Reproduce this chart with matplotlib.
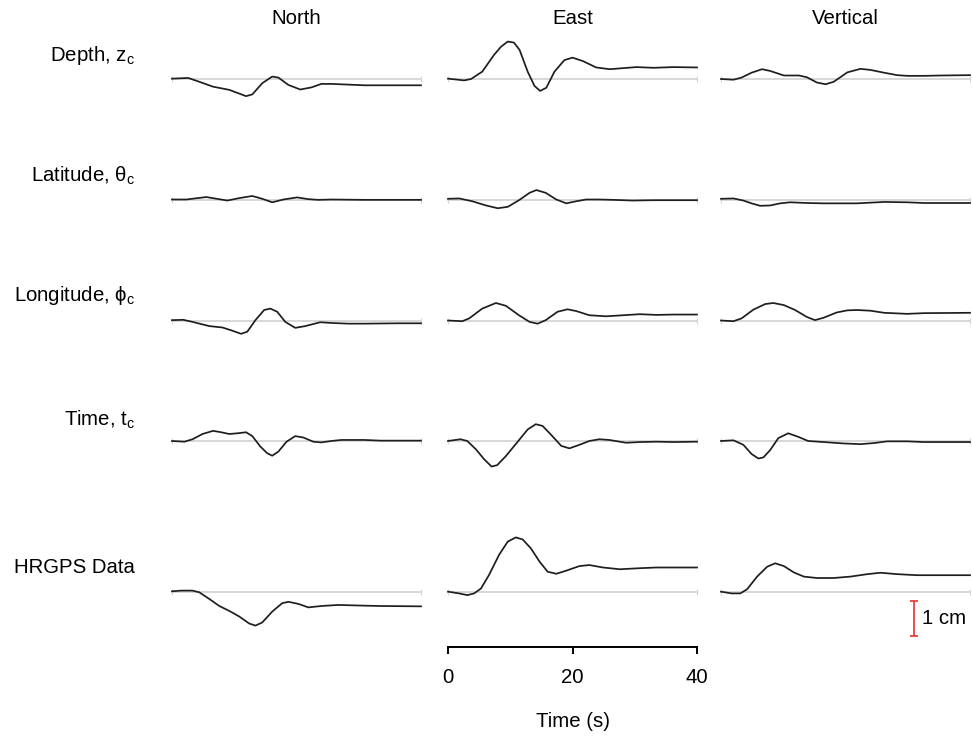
import matplotlib

matplotlib.use("Agg")
import matplotlib.pyplot as plt

plt.rcParams["font.family"] = ["Liberation Sans", "DejaVu Sans"]
plt.rcParams["mathtext.fontset"] = "custom"
plt.rcParams["mathtext.rm"] = "Liberation Sans"
plt.rcParams["mathtext.it"] = "Liberation Sans:italic"

# --- data: displacement traces (cm) vs time (s) ----------------------------
COMPONENTS = ["North", "East", "Vertical"]
ROW_LABELS = [r"Depth, z$_\mathrm{c}$", r"Latitude, θ$_\mathrm{c}$",
              r"Longitude, ϕ$_\mathrm{c}$", r"Time, t$_\mathrm{c}$", "HRGPS Data"]
TIME_TICKS = [0, 20, 40]
SCALE_CM = 1.0

# depth
N_DEPTH_T = [0, 2.6, 4.4, 6.6, 9.2, 11.9, 12.9, 14.5, 16.1, 17.1, 18.7, 20.6, 22.4, 24.0, 25.6, 28.3, 30.9, 36.2, 40]
N_DEPTH_V = [0.01, 0.03, -0.08, -0.22, -0.31, -0.49, -0.44, -0.12, 0.07, 0.04, -0.17, -0.30, -0.24, -0.14, -0.14, -0.16, -0.18, -0.18, -0.18]
E_DEPTH_T = [0, 2.6, 3.7, 5.5, 7.4, 8.5, 9.6, 10.6, 11.5, 12.8, 13.9, 14.8, 15.8, 17.1, 18.7, 20.0, 21.7, 23.8, 26.0, 28.1, 30.3, 33.0, 36.2, 40]
E_DEPTH_V = [0.01, -0.04, 0.0, 0.21, 0.69, 0.92, 1.07, 1.04, 0.83, 0.21, -0.20, -0.34, -0.25, 0.21, 0.54, 0.61, 0.51, 0.33, 0.28, 0.31, 0.34, 0.32, 0.34, 0.33]
V_DEPTH_T = [0, 2.0, 3.3, 4.9, 6.6, 7.9, 10.1, 12.5, 13.8, 15.4, 16.8, 18.1, 20.3, 22.4, 24.0, 26.2, 28.3, 29.9, 32.6, 35.3, 40]
V_DEPTH_V = [0, -0.02, 0.04, 0.18, 0.28, 0.23, 0.10, 0.10, 0.05, -0.10, -0.15, -0.08, 0.19, 0.29, 0.26, 0.18, 0.11, 0.09, 0.09, 0.10, 0.11]

# latitude
N_LAT_T = [0, 2.3, 5.5, 8.9, 10.8, 12.9, 14.5, 16.1, 17.9, 20.1, 21.9, 23.5, 25.6, 30.9, 40]
N_LAT_V = [0, 0, 0.07, -0.03, 0.04, 0.10, 0.02, -0.08, 0, 0.06, 0.01, -0.01, 0, -0.01, -0.01]
E_LAT_T = [0, 1.8, 3.9, 6.1, 8.0, 9.6, 11.4, 13.1, 14.2, 15.7, 17.4, 19.0, 20.6, 22.2, 24.3, 26.5, 29.7, 33.0, 36.2, 40]
E_LAT_V = [0.02, 0.03, -0.05, -0.17, -0.25, -0.21, -0.02, 0.19, 0.27, 0.19, 0, -0.11, -0.05, 0, 0, -0.01, -0.03, -0.02, -0.02, -0.02]
V_LAT_T = [0, 2.0, 3.6, 4.9, 6.3, 7.9, 9.5, 11.1, 13.8, 16.5, 21.8, 26.2, 29.9, 32.6, 40]
V_LAT_V = [0.02, 0.03, -0.03, -0.11, -0.18, -0.17, -0.11, -0.08, -0.10, -0.11, -0.11, -0.07, -0.08, -0.10, -0.10]

# longitude
N_LON_T = [0, 1.8, 3.3, 6.0, 8.1, 9.5, 11.1, 12.1, 13.4, 14.8, 15.8, 16.9, 18.2, 19.8, 21.4, 23.8, 25.6, 28.3, 30.9, 36.2, 40]
N_LON_V = [0.01, 0.02, -0.04, -0.16, -0.20, -0.28, -0.38, -0.32, 0.01, 0.30, 0.34, 0.25, -0.04, -0.21, -0.16, -0.05, -0.07, -0.09, -0.09, -0.08, -0.08]
E_LON_T = [0, 2.3, 3.4, 5.5, 7.7, 9.3, 11.4, 13.1, 14.4, 15.7, 17.6, 19.2, 20.6, 22.7, 25.4, 28.1, 30.8, 33.5, 36.2, 40]
E_LON_V = [0, -0.02, 0.06, 0.34, 0.50, 0.42, 0.15, -0.04, -0.09, 0.01, 0.25, 0.32, 0.27, 0.15, 0.12, 0.15, 0.18, 0.16, 0.17, 0.17]
V_LON_T = [0, 2.0, 3.3, 5.2, 7.1, 8.4, 10.1, 11.9, 13.8, 15.1, 16.5, 18.6, 20.3, 21.8, 24.0, 26.2, 29.9, 32.6, 40]
V_LON_V = [0, -0.02, 0.06, 0.31, 0.47, 0.50, 0.44, 0.30, 0.10, 0.01, 0.08, 0.23, 0.29, 0.30, 0.28, 0.22, 0.19, 0.21, 0.22]

# origin time
N_TIME_T = [0, 2.0, 3.3, 4.9, 6.6, 7.9, 9.2, 10.5, 11.9, 12.9, 14.2, 15.3, 16.1, 17.1, 18.4, 19.8, 21.1, 22.7, 24.0, 25.6, 27.2, 30.9, 33.5, 40]
N_TIME_V = [0, -0.02, 0.05, 0.20, 0.29, 0.25, 0.20, 0.22, 0.25, 0.14, -0.16, -0.35, -0.42, -0.30, -0.02, 0.14, 0.10, -0.02, -0.04, 0, 0.03, 0.03, 0.01, 0.01]
E_TIME_T = [0, 2.0, 3.1, 4.5, 5.8, 7.0, 7.9, 9.3, 11.2, 12.8, 14.1, 15.2, 16.6, 18.2, 19.5, 21.1, 22.7, 24.3, 25.9, 28.6, 30.8, 33.5, 36.2, 40]
E_TIME_V = [0, 0.05, 0, -0.24, -0.52, -0.73, -0.69, -0.43, -0.02, 0.33, 0.48, 0.43, 0.17, -0.14, -0.21, -0.11, 0, 0.05, 0.03, -0.05, -0.03, -0.02, -0.03, -0.02]
V_TIME_T = [0, 2.0, 3.6, 4.9, 6.0, 6.8, 7.9, 9.2, 10.8, 12.4, 14.0, 16.5, 19.7, 22.4, 24.5, 26.7, 29.9, 32.6, 40]
V_TIME_V = [0, 0.02, -0.11, -0.37, -0.50, -0.47, -0.26, 0.08, 0.22, 0.12, 0, -0.03, -0.07, -0.09, -0.06, -0.01, -0.01, -0.03, -0.03]

# observed HRGPS
N_DATA_T = [0, 1.5, 3.3, 4.4, 6.0, 7.6, 9.2, 10.8, 12.4, 13.4, 14.5, 16.1, 17.7, 18.7, 20.3, 21.9, 24.0, 26.7, 30.9, 33.5, 40]
N_DATA_V = [0.02, 0.04, 0.04, -0.01, -0.20, -0.40, -0.54, -0.70, -0.90, -0.96, -0.87, -0.56, -0.32, -0.28, -0.34, -0.44, -0.40, -0.37, -0.39, -0.40, -0.41]
E_DATA_T = [0, 1.8, 3.1, 4.2, 5.3, 6.6, 8.2, 9.6, 10.9, 12.0, 13.3, 14.7, 16.0, 17.4, 19.0, 21.1, 22.7, 24.9, 27.6, 30.8, 33.5, 36.2, 40]
E_DATA_V = [0.01, -0.04, -0.09, -0.04, 0.10, 0.49, 1.06, 1.44, 1.56, 1.50, 1.25, 0.87, 0.58, 0.52, 0.61, 0.74, 0.77, 0.70, 0.65, 0.68, 0.70, 0.70, 0.70]
V_DATA_T = [0, 1.7, 3.1, 4.2, 5.8, 7.4, 8.7, 10.1, 11.7, 13.3, 15.4, 18.1, 20.8, 23.5, 25.6, 28.3, 31.5, 35.3, 40]
V_DATA_V = [0.01, -0.04, -0.04, 0.08, 0.44, 0.72, 0.82, 0.74, 0.56, 0.44, 0.40, 0.40, 0.44, 0.51, 0.55, 0.51, 0.48, 0.48, 0.48]

TRACES = [
    [(N_DEPTH_T, N_DEPTH_V), (E_DEPTH_T, E_DEPTH_V), (V_DEPTH_T, V_DEPTH_V)],
    [(N_LAT_T, N_LAT_V), (E_LAT_T, E_LAT_V), (V_LAT_T, V_LAT_V)],
    [(N_LON_T, N_LON_V), (E_LON_T, E_LON_V), (V_LON_T, V_LON_V)],
    [(N_TIME_T, N_TIME_V), (E_TIME_T, E_TIME_V), (V_TIME_T, V_TIME_V)],
    [(N_DATA_T, N_DATA_V), (E_DATA_T, E_DATA_V), (V_DATA_T, V_DATA_V)],
]

# --- layout (pixels of the 972x736 canvas) ---------------------------------
W, H = 972, 736
PANEL_LEFT = [172, 448, 721]
PANEL_W = 249
ROW_BASE = [79, 199.5, 320.5, 441, 592]   # y of the zero line
LABEL_BASE = [61, 182, 301, 426, 573]
PX_PER_CM = 35.0
UP, DOWN = 60, 50                          # px kept above / below zero line
FS = 14.7
GREY = "#d4d4d4"
INK = "#1e1e1e"
RED = "#e8322b"

fig = plt.figure(figsize=(W / 100, H / 100), dpi=100)


def fx(x):
    return x / W


def fy(y):
    return 1 - y / H


for r, yb in enumerate(ROW_BASE):
    for c, x0 in enumerate(PANEL_LEFT):
        ax = fig.add_axes([fx(x0), fy(yb + DOWN), PANEL_W / W, (UP + DOWN) / H])
        ax.set_xlim(0, 40)
        ax.set_ylim(-DOWN / PX_PER_CM, UP / PX_PER_CM)
        ax.axis("off")
        ax.plot([0, 40], [0, 0], color=GREY, lw=1.3, marker="|", ms=4,
                mew=0.8, clip_on=False, zorder=1)
        t, v = TRACES[r][c]
        ax.plot(t, v, color=INK, lw=1.25, solid_joinstyle="round",
                clip_on=False, zorder=2)
        if r == len(ROW_BASE) - 1 and c == 2:
            # 1 cm scale bar
            xs = 31.0
            ax.errorbar([xs], [-0.26 - SCALE_CM / 2], yerr=SCALE_CM / 2,
                        color=RED, lw=1.2, capsize=3, capthick=1.2,
                        clip_on=False)
            ax.text(xs + 1.3, -0.26 - SCALE_CM / 2, "1 cm", fontsize=FS,
                    va="center", ha="left")

# column titles
for c, name in enumerate(COMPONENTS):
    fig.text(fx(PANEL_LEFT[c] + PANEL_W / 2), fy(24), name, fontsize=FS,
             ha="center", va="baseline")

# row labels
for label, yl in zip(ROW_LABELS, LABEL_BASE):
    fig.text(fx(135), fy(yl), label, fontsize=FS, ha="right", va="baseline")

# time axis under the East column
ax_t = fig.add_axes([fx(PANEL_LEFT[1]), fy(647), PANEL_W / W, 0.0001])
ax_t.set_xlim(0, 40)
ax_t.set_yticks([])
for s in ("top", "left", "right"):
    ax_t.spines[s].set_visible(False)
ax_t.spines["bottom"].set_linewidth(1.4)
ax_t.set_xticks(TIME_TICKS)
ax_t.tick_params(axis="x", direction="out", length=5, width=1.4,
                 labelsize=FS, pad=10)
ax_t.set_xlabel("Time (s)", fontsize=FS, labelpad=18)
ax_t.patch.set_visible(False)

fig.savefig("out.png", dpi=100)
